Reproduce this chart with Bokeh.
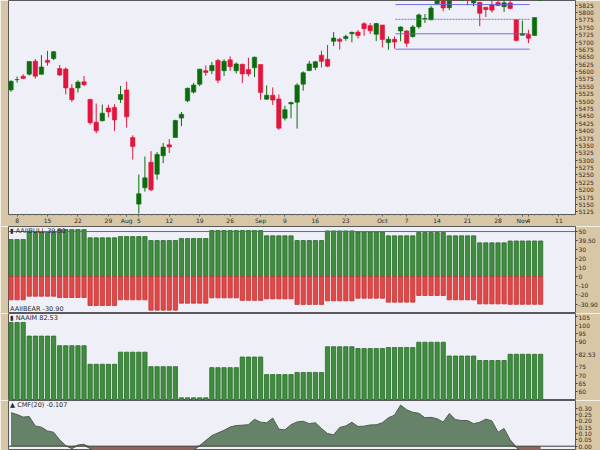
import numpy as np
from bokeh.plotting import figure
from bokeh.models import ColumnDataSource, Range1d, FixedTicker, Label, Span
from bokeh.layouts import column
from bokeh.embed import file_html
from bokeh.resources import INLINE

# ---------------- data ----------------
opens = [5537.9, 5572.8, 5584.2, 5591.3, 5635.2, 5590.8, 5638.2, 5644.1, 5610.1, 5608.6,
         5543.4, 5544.5, 5565.3, 5505.8, 5428.7, 5433.7, 5476.6, 5478.7, 5505.6, 5537.8,
         5376.6, 5151.1, 5206.4, 5293.1, 5252.6, 5314.8, 5351.9, 5377.0, 5442.4, 5501.1,
         5530.5, 5557.2, 5602.9, 5603.1, 5637.8, 5602.9, 5639.7, 5602.9, 5624.5, 5607.3,
         5612.7, 5623.9, 5506.7, 5520.1, 5507.3, 5442.1, 5490.5, 5496.4, 5557.5, 5603.3,
         5614.1, 5655.5, 5641.7, 5702.6, 5709.6, 5711.9, 5727.9, 5733.7, 5762.2, 5755.4,
         5726.5, 5757.7, 5698.2, 5709.2, 5737.4, 5737.8, 5719.1, 5751.8, 5778.4, 5775.1,
         5829.8, 5866.7, 5816.6, 5875.6, 5859.4, 5857.8, 5832.7, 5834.5, 5817.8, 5826.8,
         5833.9, 5819.7, 5832.7, 5775.3, 5723.2, 5725.2, 5722.4, 5864.9]
highs = [5570.3, 5583.1, 5590.8, 5635.4, 5642.5, 5655.6, 5670.4, 5669.7, 5622.5, 5614.1,
         5557.5, 5570.4, 5585.3, 5508.0, 5491.6, 5488.3, 5487.7, 5489.5, 5551.5, 5566.2,
         5383.9, 5250.9, 5312.3, 5330.6, 5328.0, 5358.2, 5371.2, 5436.5, 5463.2, 5546.2,
         5562.0, 5608.3, 5620.5, 5632.7, 5643.2, 5641.8, 5651.6, 5631.2, 5627.0, 5647.0,
         5651.4, 5623.9, 5553.0, 5546.3, 5522.5, 5484.2, 5497.9, 5560.4, 5600.7, 5636.3,
         5636.1, 5670.8, 5689.8, 5733.6, 5715.1, 5725.4, 5735.3, 5741.0, 5767.4, 5764.7,
         5765.1, 5757.7, 5719.1, 5718.8, 5753.2, 5739.3, 5757.6, 5796.8, 5795.0, 5822.1,
         5871.4, 5870.4, 5846.5, 5878.5, 5872.2, 5866.9, 5863.0, 5834.9, 5817.8, 5862.8,
         5842.9, 5847.2, 5850.9, 5775.3, 5772.5, 5741.4, 5783.4, 5936.1]
lows = [5531.6, 5562.5, 5574.6, 5586.4, 5576.5, 5590.4, 5619.9, 5639.0, 5584.8, 5522.8,
        5497.0, 5529.0, 5550.9, 5420.0, 5391.0, 5430.7, 5444.4, 5399.0, 5493.8, 5410.4,
        5302.0, 5119.3, 5193.6, 5195.5, 5233.9, 5289.9, 5324.4, 5377.0, 5415.0, 5496.5,
        5525.5, 5550.7, 5585.5, 5591.6, 5561.0, 5585.2, 5602.3, 5593.5, 5561.0, 5583.7,
        5581.8, 5504.3, 5503.7, 5487.0, 5402.6, 5434.5, 5441.7, 5407.0, 5535.5, 5601.7,
        5604.5, 5614.1, 5615.1, 5686.4, 5674.5, 5704.2, 5699.0, 5712.1, 5721.0, 5727.1,
        5703.5, 5681.7, 5674.0, 5677.7, 5702.8, 5683.8, 5714.6, 5745.0, 5764.8, 5775.1,
        5829.8, 5804.5, 5808.3, 5840.3, 5846.1, 5824.8, 5821.2, 5754.0, 5784.9, 5800.0,
        5823.1, 5802.0, 5811.3, 5702.9, 5723.2, 5696.5, 5722.1, 5864.9]
closes = [5567.2, 5572.9, 5577.0, 5633.9, 5584.5, 5615.4, 5631.2, 5667.2, 5588.3, 5544.6,
          5505.0, 5564.4, 5555.7, 5427.1, 5399.2, 5459.1, 5463.5, 5436.4, 5522.3, 5446.7,
          5346.6, 5186.3, 5240.0, 5199.5, 5319.3, 5344.2, 5344.4, 5434.4, 5455.2, 5543.2,
          5554.3, 5608.3, 5597.1, 5620.9, 5570.6, 5634.6, 5616.8, 5625.8, 5592.2, 5592.0,
          5648.4, 5528.9, 5520.1, 5503.4, 5408.4, 5471.1, 5495.5, 5554.1, 5595.8, 5626.0,
          5633.1, 5634.6, 5618.3, 5713.6, 5702.6, 5718.6, 5732.9, 5722.3, 5745.4, 5738.2,
          5762.5, 5708.8, 5709.5, 5699.9, 5751.1, 5695.9, 5751.1, 5792.0, 5780.1, 5815.0,
          5859.9, 5815.3, 5842.5, 5841.5, 5864.7, 5854.0, 5851.2, 5797.4, 5809.9, 5808.1,
          5823.5, 5832.9, 5813.7, 5705.5, 5728.8, 5712.7, 5782.8, 5929.0]

# weekly sentiment values (weeks Wed..Tue), number of trading days per week
week_days = [3, 5, 5, 5, 5, 5, 5, 5, 4, 5, 5, 5, 5, 5, 5, 5, 5, 6]
aaii_bull = [41.1, 48.9, 52.2, 43.0, 44.4, 40.0, 42.2, 51.1, 51.1, 45.2, 40.0, 50.7, 49.6, 45.2, 48.9, 45.2, 37.4, 39.5]
aaii_bear = [-25.9, -21.9, -23.3, -32.2, -25.9, -37.4, -29.6, -23.7, -26.5, -24.8, -31.0, -27.0, -24.1, -28.5, -21.1, -25.9, -30.4, -30.9]
naaim = [101.7, 93.5, 87.7, 76.5, 83.8, 75.1, 56.3, 74.5, 80.9, 70.3, 71.6, 87.1, 86.0, 86.6, 89.8, 81.5, 78.8, 82.53]

cmf = [0.265, 0.250, 0.230, 0.234, 0.160, 0.150, 0.120, 0.110, 0.050, 0.005,
       -0.020, 0.010, 0.015, -0.020, -0.040, -0.050, -0.060, -0.060, -0.050, -0.070,
       -0.080, -0.100, -0.090, -0.080, -0.080, -0.070, -0.060, -0.060, -0.050, -0.040,
       -0.030, 0.005, 0.045, 0.084, 0.105, 0.125, 0.152, 0.163, 0.166, 0.170,
       0.212, 0.190, 0.185, 0.222, 0.135, 0.129, 0.170, 0.192, 0.197, 0.178,
       0.185, 0.140, 0.100, 0.090, 0.148, 0.160, 0.189, 0.156, 0.158, 0.168,
       0.169, 0.185, 0.225, 0.245, 0.325, 0.287, 0.268, 0.260, 0.225, 0.228,
       0.216, 0.190, 0.258, 0.210, 0.203, 0.203, 0.178, 0.189, 0.214, 0.200,
       0.110, 0.140, 0.050, -0.010, -0.050, -0.070, -0.080, -0.107]

tick_idx = [1, 6, 11, 16, 19, 21, 26, 31, 36, 41, 45, 50, 55, 61, 65, 70, 75, 80, 84, 85, 90]
tick_labels = ["8", "15", "22", "29", "Aug", "5", "12", "19", "26", "Sep", "9", "16", "23",
               "Oct", "7", "14", "21", "28", "Nov", "4", "11"]

# annotation lines drawn on the price chart
hline_levels = [5827, 5777, 5728, 5676]
hline_dash = ["solid", "2 1", "solid", "solid"]
hline_start = 63.15
hline_end = 85.2

price_ticks = list(range(5125, 5850, 25))
aaii_ticks = [-20, -10, 0, 10, 20, 30, 50]
naaim_ticks = [60, 65, 70, 75, 90, 95, 100, 105]
cmf_ticks = [0.0, 0.05, 0.10, 0.15, 0.20, 0.25, 0.30]
cmf_tick_labels = ["0.00", "0.05", "0.10", "0.15", "0.20", "0.25", "0.30"]

# ---------------- styling ----------------
BG = "#eff0f7"
TAN = "#d8c7a7"
GREEN = "#0c6c0c"
RED = "#e0163e"
FONT = "DejaVu Sans"
TXT = "#2a2a2a"
W = 600
LB = 8
RB = 22

n = len(closes)
idx = np.arange(n)
x_rng = Range1d(-0.408, 92.73)


def make_fig(h, y0, y1, xaxis=False):
    p = figure(width=W, height=h, x_range=x_rng, y_range=Range1d(y0, y1),
               output_backend="svg", toolbar_location=None,
               min_border_left=LB, min_border_right=RB, min_border_top=0, min_border_bottom=0,
               background_fill_color=BG, border_fill_color=TAN,
               outline_line_color="#5a5a5a", outline_line_width=1,
               x_axis_location="below" if xaxis else None, y_axis_location="right")
    p.grid.visible = False
    ya = p.yaxis[0]
    ya.axis_line_color = None
    ya.major_tick_out = 2
    ya.major_tick_in = 0
    ya.minor_tick_out = 0
    ya.minor_tick_in = 0
    ya.major_tick_line_color = "#444444"
    ya.major_label_text_font = FONT
    ya.major_label_text_font_size = "6px"
    ya.major_label_text_color = TXT
    ya.major_label_standoff = 1
    return p


def set_ticks(p, ticks, labels, value_marks):
    """regular ticks plus the latest-value marks on the right axis"""
    allt = list(ticks) + [v for v, _ in value_marks]
    p.yaxis.ticker = FixedTicker(ticks=allt)
    ov = {t: s for t, s in zip(ticks, labels)}
    for v, s in value_marks:
        ov[v] = s
    p.yaxis.major_label_overrides = ov


def add_label(p, x, y, text, baseline="top"):
    p.add_layout(Label(x=x, y=y, text=text, text_font=FONT, text_font_size="6.5px",
                       text_color=TXT, text_baseline=baseline, text_align="left"))


# ---------------- price panel ----------------
AX_H = 10
P_BOT = 226 - AX_H
p1 = make_fig(226, 5825 - (P_BOT - 4.7) * 3.3557, 5825 + 4.7 * 3.3557, xaxis=True)
set_ticks(p1, price_ticks, [str(t) for t in price_ticks], [])

inc = [c >= o for o, c in zip(opens, closes)]
src = ColumnDataSource(dict(
    x=idx, o=opens, h=highs, l=lows, c=closes,
    top=[max(o, c) for o, c in zip(opens, closes)],
    bot=[min(o, c) for o, c in zip(opens, closes)],
    col=[GREEN if u else RED for u in inc],
))
p1.segment(x0="x", y0="l", x1="x", y1="h", source=src, line_color="col", line_width=1)
p1.vbar(x="x", width=0.72, top="top", bottom="bot", source=src,
        fill_color="col", line_color="col", line_width=0.6)

for lvl, dash in zip(hline_levels, hline_dash):
    p1.segment(x0=[hline_start], y0=[lvl], x1=[hline_end], y1=[lvl],
               line_color="#6464e0", line_width=1, line_dash=dash, line_alpha=0.9)

xa = p1.xaxis[0]
xa.ticker = FixedTicker(ticks=tick_idx, minor_ticks=list(range(-1, 93)))
xa.major_label_overrides = {t: s for t, s in zip(tick_idx, tick_labels)}
xa.axis_line_color = "#5a5a5a"
xa.major_tick_out = 2
xa.major_tick_in = 0
xa.minor_tick_out = 1
xa.minor_tick_in = 0
xa.major_tick_line_color = "#555555"
xa.minor_tick_line_color = "#777777"
xa.major_label_standoff = 0
xa.major_label_text_font = FONT
xa.major_label_text_font_size = "6px"
xa.major_label_text_color = TXT

# ---------------- AAII panel ----------------
bull_d = np.repeat(aaii_bull, week_days)
bear_d = np.repeat(aaii_bear, week_days)
p2 = make_fig(87, -41.1, 55.6)
set_ticks(p2, aaii_ticks, [str(t) for t in aaii_ticks],
          [(aaii_bull[-1], "%.2f" % aaii_bull[-1]), (aaii_bear[-1], "%.2f" % aaii_bear[-1])])
p2.vbar(x=idx, width=0.7, top=bull_d, bottom=0, fill_color="#3e8e3e", line_color="#2a6a2a", line_width=0.8)
p2.vbar(x=idx, width=0.7, top=0, bottom=bear_d, fill_color="#e24848", line_color="#c03232", line_width=0.8)
p2.add_layout(Span(location=50, dimension="width", line_color="#5c5cd0", line_width=1))
add_label(p2, -0.15, 55.0, "\u25AE AAIIBULL " + "%.2f" % aaii_bull[-1])
add_label(p2, -0.15, -40.5, "AAIIBEAR " + "%.2f" % aaii_bear[-1], baseline="bottom")

# ---------------- NAAIM panel ----------------
naaim_d = np.repeat(naaim, week_days)
p3 = make_fig(87, 54.7, 107.1)
set_ticks(p3, naaim_ticks, [str(t) for t in naaim_ticks], [(naaim[-1], "%.2f" % naaim[-1])])
p3.vbar(x=idx, width=0.7, top=naaim_d, bottom=0, fill_color="#3e8e3e", line_color="#2a6a2a", line_width=0.8)
add_label(p3, -0.15, 106.6, "\u25AE NAAIM " + "%.2f" % naaim[-1])

# ---------------- CMF panel ----------------
cmf_a = np.array(cmf)
p4 = make_fig(50, -0.034, 0.361)
set_ticks(p4, cmf_ticks, cmf_tick_labels, [])
p4.varea(x=idx, y1=0, y2=np.maximum(cmf_a, 0), fill_color="#66836a")
p4.varea(x=idx, y1=np.minimum(cmf_a, 0), y2=0, fill_color="#8e645e")
p4.line(x=idx, y=cmf_a, line_color="#4e5e4e", line_width=1)
p4.add_layout(Span(location=0, dimension="width", line_color="#3a3a3a", line_width=1))
add_label(p4, -0.15, 0.356, "\u25B2 CMF(20) " + "%.3f" % cmf[-1])

layout = column(p1, p2, p3, p4, spacing=0)

open("out.html", "w").write(file_html(layout, INLINE))
